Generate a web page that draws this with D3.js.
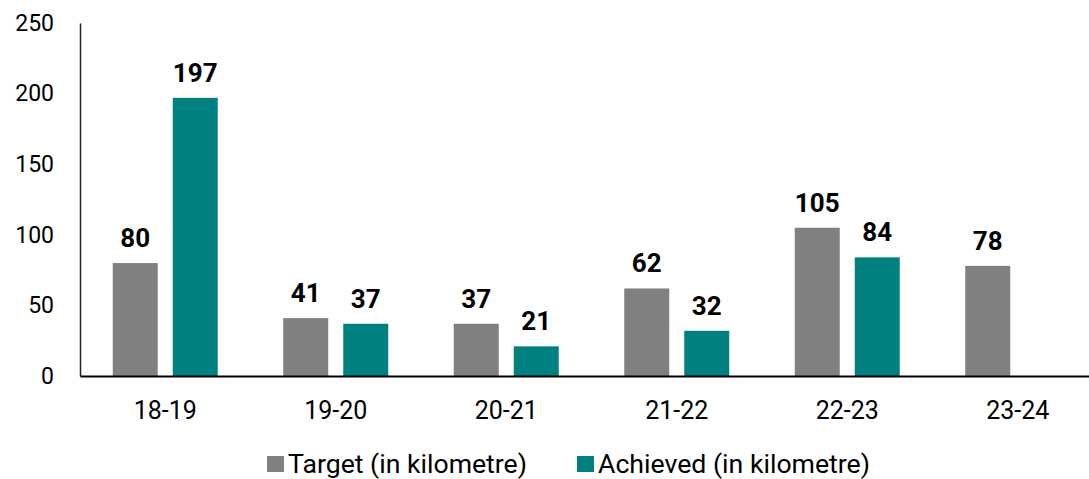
<!DOCTYPE html>
<html>
<head>
<meta charset="utf-8">
<script src="https://d3js.org/d3.v7.min.js"></script>
<style>
body { margin: 0; background: #fff; }
svg text { font-family: Roboto, "Noto Sans", sans-serif; fill: #000; }
</style>
</head>
<body>
<script>
// chart data
var years = ["18-19", "19-20", "20-21", "21-22", "22-23", "23-24"];
var target = [80, 41, 37, 62, 105, 78];
var achieved = [197, 37, 21, 32, 84, null];
var yTicks = [0, 50, 100, 150, 200, 250];
var seriesNames = ["Target (in kilometre)", "Achieved (in kilometre)"];
var colors = ["#808080", "#008080"];

var width = 1089, height = 479;
var svg = d3.select("body").append("svg")
    .attr("width", width)
    .attr("height", height);

var x = d3.scaleBand().domain(years).range([80, 1103]).padding(0);
var y = d3.scaleLinear().domain([0, 250]).range([376, 23]);

var barW = 45, gap = 15;

// y axis
var yAxis = svg.append("g")
    .attr("transform", "translate(80,0)")
    .call(d3.axisLeft(y).tickValues(yTicks).tickSize(0).tickPadding(26));
yAxis.select(".domain").attr("stroke", "#222").attr("stroke-width", 1.5);
yAxis.selectAll("text").attr("font-size", "23px").attr("fill", "#000");

// bars
var series = [target, achieved];
series.forEach(function(vals, s) {
  var data = years.map(function(yr, i) { return {yr: yr, v: vals[i]}; })
    .filter(function(d) { return d.v != null; });
  svg.selectAll(".bar" + s).data(data).enter().append("rect")
    .attr("x", function(d) {
      var c = x(d.yr) + x.bandwidth() / 2;
      return s == 0 ? c - gap / 2 - barW : c + gap / 2;
    })
    .attr("y", function(d) { return y(d.v); })
    .attr("width", barW)
    .attr("height", function(d) { return y(0) - y(d.v); })
    .attr("fill", colors[s]);
  svg.selectAll(".lab" + s).data(data).enter().append("text")
    .attr("x", function(d) {
      var c = x(d.yr) + x.bandwidth() / 2;
      return s == 0 ? c - gap / 2 - barW / 2 : c + gap / 2 + barW / 2;
    })
    .attr("y", function(d) { return y(d.v) - 16; })
    .attr("text-anchor", "middle")
    .attr("font-size", "26px")
    .attr("font-weight", "bold")
    .text(function(d) { return d.v; });
});

// x axis
var xAxis = svg.append("g")
    .attr("transform", "translate(0,376)")
    .call(d3.axisBottom(x).tickSize(0).tickPadding(25));
xAxis.select(".domain").attr("stroke", "#000").attr("stroke-width", 2);
xAxis.selectAll("text").attr("font-size", "25px").attr("fill", "#000");

// legend
var legendX = [267, 577];
var legendLen = [239, 272];
seriesNames.forEach(function(name, i) {
  var g = svg.append("g").attr("transform", "translate(" + legendX[i] + ",456)");
  g.append("rect").attr("width", 17).attr("height", 16).attr("fill", colors[i]);
  g.append("text").attr("x", 21).attr("y", 16.5).attr("font-size", "25px")
    .attr("textLength", legendLen[i]).attr("lengthAdjust", "spacingAndGlyphs")
    .text(name);
});
</script>
</body>
</html>
